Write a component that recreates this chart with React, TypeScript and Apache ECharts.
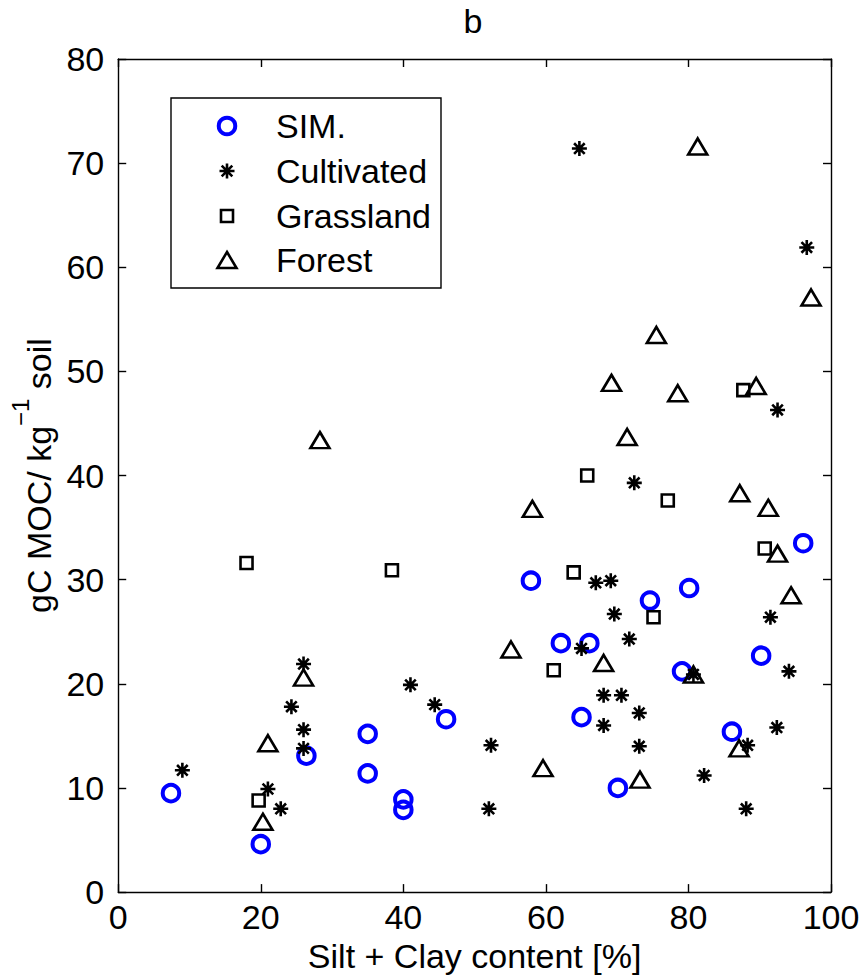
import React, { useEffect, useRef } from "react";
import * as echarts from "echarts";

// Simulated MOC values (blue rings)
const simX = [7.4, 20, 26.4, 35, 35, 40, 40, 46, 57.9, 62.1, 65, 66.1, 70.1, 74.6, 79.1, 80.1, 86.1, 90.2, 96.1];
const simY = [9.5, 4.6, 13.1, 15.2, 11.4, 8.9, 7.9, 16.6, 29.9, 23.9, 16.8, 23.9, 10.0, 28.0, 21.2, 29.2, 15.4, 22.7, 33.5];

// Cultivated soils
const cultX = [9.0, 21.0, 22.8, 24.3, 26.0, 26.0, 26.0, 41.0, 44.4, 52.3, 52.0, 64.7, 65.0, 67.0, 69.1, 69.6, 71.7, 72.4, 68.1, 70.6, 73.1, 68.1, 73.1, 80.7, 82.2, 88.1, 88.3, 91.5, 92.4, 92.5, 94.1, 96.6];
const cultY = [11.7, 9.9, 8.0, 17.8, 21.9, 15.6, 13.8, 19.9, 18.0, 14.1, 8.0, 71.4, 23.4, 29.7, 29.9, 26.7, 24.3, 39.3, 18.9, 18.9, 17.2, 16.0, 14.0, 20.9, 11.2, 8.0, 14.1, 26.4, 15.8, 46.3, 21.2, 61.9];

// Grassland soils
const grassX = [18.0, 19.7, 38.4, 61.1, 63.9, 65.8, 75.1, 77.1, 87.7, 90.7];
const grassY = [31.6, 8.8, 30.9, 21.3, 30.7, 40.0, 26.4, 37.6, 48.2, 33.0];

// Forest soils
const forestX = [20.3, 21.0, 26.0, 28.3, 55.1, 58.1, 59.6, 68.1, 69.2, 71.4, 73.2, 75.5, 78.5, 80.7, 81.3, 87.1, 87.2, 89.5, 91.2, 92.5, 94.4, 97.2];
const forestY = [6.75, 14.3, 20.6, 43.4, 23.3, 36.8, 11.9, 22.0, 48.9, 43.7, 10.8, 53.5, 47.9, 20.9, 71.6, 13.8, 38.3, 48.6, 36.9, 32.5, 28.5, 57.1];

const legendNames = ["SIM.", "Cultivated", "Grassland", "Forest"];

const FONT = "'Liberation Sans', Arial, Helvetica, sans-serif";
const FS = 34;
const ASTERISK_SYMBOL = "path://M0,-10L0,10M-10,0L10,0M-7.07,-7.07L7.07,7.07M-7.07,7.07L7.07,-7.07";
const ASTERISK_D = "M0,-7.5L0,7.5M-7.5,0L7.5,0M-5.3,-5.3L5.3,5.3M-5.3,5.3L5.3,-5.3";

echarts.graphic.registerShape("asterisk", echarts.graphic.extendPath(ASTERISK_D, {}));

const pairs = (xs: number[], ys: number[]) => xs.map((x, i) => [x, ys[i]]);

const axisBase = {
  type: "value" as const,
  axisLine: { show: true, onZero: false, lineStyle: { color: "#000", width: 1.4 } },
  axisTick: { show: true, inside: true, length: 8, lineStyle: { color: "#000", width: 1.4 } },
  splitLine: { show: false },
};

const labelStyle = { fontSize: FS, fontFamily: FONT, color: "#000" };

export default function App() {
  const ref = useRef<HTMLDivElement>(null);

  useEffect(() => {
    const chart = echarts.init(ref.current!, null, { renderer: "svg" });

    // legend box in the upper-left of the plot
    const lx = 227;
    const rows = [126, 171, 216, 260];
    const tx = 276;

    const option = {
      animation: false,
      backgroundColor: "#fff",
      grid: { left: 115, top: 59, width: 716, height: 834, containLabel: false },
      xAxis: [
        {
          ...axisBase,
          min: 0,
          max: 100,
          interval: 20,
          position: "bottom",
          axisLabel: { ...labelStyle, margin: 8 },
          name: "Silt + Clay content [%]",
          nameLocation: "middle",
          nameGap: 46,
          nameTextStyle: labelStyle,
        },
        {
          ...axisBase,
          min: 0,
          max: 100,
          interval: 20,
          position: "top",
          axisLabel: { show: false },
        },
      ],
      yAxis: [
        {
          ...axisBase,
          min: 0,
          max: 80,
          interval: 10,
          position: "left",
          axisLabel: { ...labelStyle, margin: 14 },
          name: "{a|gC MOC/ kg}{s|\u22121}{a| soil}",
          nameLocation: "middle",
          nameGap: 42,
          nameTextStyle: {
            ...labelStyle,
            rich: {
              a: { ...labelStyle },
              s: { fontSize: 24, fontFamily: FONT, color: "#000", padding: [0, 0, 37, 0] },
            },
          },
        },
        {
          ...axisBase,
          min: 0,
          max: 80,
          interval: 10,
          position: "right",
          axisLabel: { show: false },
        },
      ],
      series: [
        {
          name: legendNames[0],
          type: "scatter",
          silent: true,
          data: pairs(simX, simY),
          symbol: "circle",
          symbolSize: 16.5,
          itemStyle: { color: "rgba(0,0,0,0)", borderColor: "#0000ff", borderWidth: 4, opacity: 1 },
        },
        {
          name: legendNames[1],
          type: "scatter",
          silent: true,
          data: pairs(cultX, cultY),
          symbol: ASTERISK_SYMBOL,
          symbolSize: 15,
          itemStyle: { color: "rgba(0,0,0,0)", borderColor: "#000", borderWidth: 2.6, opacity: 1 },
        },
        {
          name: legendNames[2],
          type: "scatter",
          silent: true,
          data: pairs(grassX, grassY),
          symbol: "rect",
          symbolSize: 12,
          itemStyle: { color: "rgba(0,0,0,0)", borderColor: "#000", borderWidth: 2.6, opacity: 1 },
        },
        {
          name: legendNames[3],
          type: "scatter",
          silent: true,
          data: pairs(forestX, forestY),
          symbol: "triangle",
          symbolSize: [19, 16],
          itemStyle: { color: "rgba(0,0,0,0)", borderColor: "#000", borderWidth: 2.6, opacity: 1 },
        },
      ],
      graphic: [
        {
          type: "text",
          x: 473,
          y: 21,
          style: { text: "b", fontSize: FS, fontFamily: FONT, fill: "#000", align: "center", verticalAlign: "middle" },
        },
        {
          type: "rect",
          shape: { x: 171, y: 98, width: 270, height: 190 },
          style: { fill: "#fff", stroke: "#000", lineWidth: 1.4 },
          z: 10,
        },
        {
          type: "circle",
          shape: { cx: lx, cy: rows[0], r: 8.25 },
          style: { fill: "none", stroke: "#0000ff", lineWidth: 4 },
          z: 11,
        },
        {
          type: "asterisk",
          x: lx,
          y: rows[1],
          style: { fill: "none", stroke: "#000", lineWidth: 2.6 },
          z: 11,
        },
        {
          type: "rect",
          shape: { x: lx - 6, y: rows[2] - 6, width: 12, height: 12 },
          style: { fill: "none", stroke: "#000", lineWidth: 2.6 },
          z: 11,
        },
        {
          type: "polygon",
          shape: { points: [[lx, rows[3] - 8], [lx + 9.5, rows[3] + 8], [lx - 9.5, rows[3] + 8]] },
          style: { fill: "none", stroke: "#000", lineWidth: 2.6 },
          z: 11,
        },
        ...legendNames.map((n, i) => ({
          type: "text",
          x: tx,
          y: rows[i],
          z: 11,
          style: { text: n, fontSize: FS, fontFamily: FONT, fill: "#000", verticalAlign: "middle", align: "left" },
        })),
      ],
    };

    chart.setOption(option as any);
    return () => chart.dispose();
  }, []);

  return (
    <div
      ref={ref}
      style={{ position: "absolute", left: 0, top: 0, width: 866, height: 978, background: "#fff" }}
    />
  );
}
